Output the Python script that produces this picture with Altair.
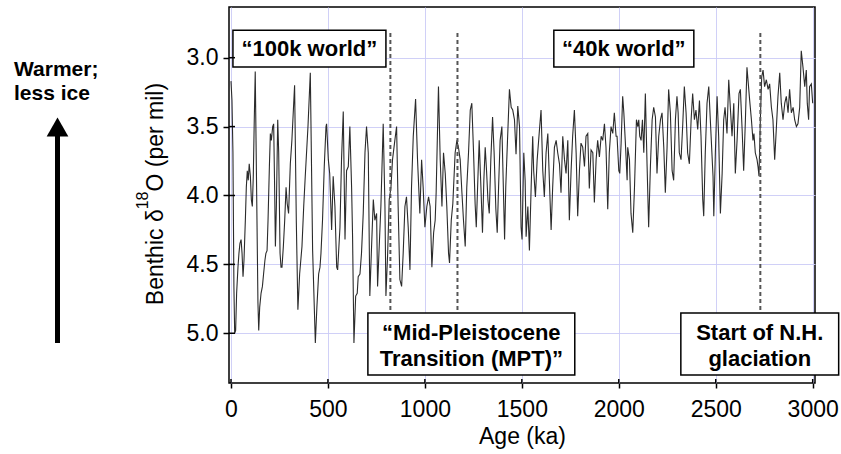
import altair as alt
import pandas as pd

# ---- benthic d18O stack (age in ka, value in per mil) ----
age_0_500 = [0, 5, 10, 15, 19, 24, 29, 36, 41, 46, 52, 57, 62, 67, 74, 79, 84, 89, 94, 100,
             105, 110, 115, 120, 125, 132, 139, 143, 148, 155, 162, 168, 175, 180, 186, 191,
             198, 203, 208, 215, 220, 225, 229, 234, 241, 246, 253, 258, 263, 270, 277, 284,
             290, 297, 306, 314, 321, 328, 337, 345, 354, 366, 375, 383, 397, 409, 421, 435,
             443, 452, 459, 464, 472, 481, 490]
d18o_0_500 = [3.17, 3.31, 3.69, 4.66, 5.00, 4.98, 4.71, 4.52, 4.42, 4.35, 4.32, 4.42, 4.59, 4.47,
              4.18, 3.94, 3.82, 3.89, 3.77, 3.86, 4.03, 4.08, 3.86, 3.45, 3.10, 3.94, 4.78, 4.98,
              4.81, 4.71, 4.66, 4.57, 4.47, 4.42, 4.40, 4.18, 3.79, 3.55, 3.60, 3.50, 3.48, 3.94,
              4.37, 4.08, 3.45, 3.69, 4.42, 4.52, 4.52, 4.37, 4.18, 3.94, 4.06, 4.13, 3.77, 3.60,
              3.40, 3.20, 4.20, 4.83, 4.57, 4.37, 4.08, 3.86, 3.50, 3.11, 4.40, 5.07, 4.81, 4.57,
              4.52, 4.42, 4.18, 3.79, 3.50]

age_500_1000 = [493, 502, 509, 519, 527, 536, 545, 550, 562, 570, 579, 588, 596, 605, 613, 622,
                627, 634, 643, 651, 656, 665, 673, 682, 691, 699, 708, 716, 725, 734, 742, 751,
                756, 763, 773, 785, 794, 799, 808, 816, 825, 833, 845, 854, 862, 871, 880, 888,
                897, 905, 914, 923, 931, 940, 952, 962, 974, 983, 991, 1000]
d18o_500_1000 = [3.48, 3.74, 3.84, 4.25, 3.86, 4.08, 4.52, 4.54, 4.23, 3.74, 3.39, 4.32, 3.82,
                 3.79, 3.50, 3.94, 4.30, 5.07, 4.73, 4.71, 4.59, 4.57, 4.42, 4.13, 3.69, 3.50,
                 3.69, 4.73, 4.37, 4.03, 4.18, 4.13, 4.66, 4.42, 4.08, 3.48, 4.08, 4.73, 4.42,
                 4.03, 3.94, 3.74, 3.60, 3.50, 4.08, 4.61, 4.66, 4.42, 4.08, 4.01, 4.23, 4.54,
                 3.94, 3.57, 3.30, 3.74, 4.13, 3.74, 3.94, 4.23]

age_1000_1500 = [1010, 1019, 1027, 1036, 1045, 1053, 1058, 1070, 1079, 1088, 1096, 1105, 1113,
                 1122, 1127, 1136, 1144, 1156, 1165, 1173, 1182, 1191, 1199, 1208, 1216, 1225,
                 1234, 1242, 1251, 1259, 1265, 1273, 1280, 1289, 1297, 1304, 1311, 1318, 1325,
                 1332, 1340, 1349, 1357, 1366, 1373, 1380, 1388, 1397, 1402, 1411, 1417, 1426,
                 1436, 1445, 1453, 1462, 1470, 1479, 1488, 1496]
d18o_1000_1500 = [4.08, 4.01, 4.08, 4.52, 4.27, 4.18, 3.98, 3.21, 3.74, 4.08, 3.69, 3.84, 4.08,
                  4.42, 4.49, 4.18, 4.06, 3.69, 3.60, 3.65, 3.74, 3.98, 4.18, 4.37, 3.94, 3.69,
                  3.38, 3.33, 3.69, 4.06, 4.23, 3.89, 3.60, 3.94, 4.27, 3.89, 3.65, 3.82, 4.03,
                  4.13, 3.74, 3.43, 3.69, 4.10, 4.27, 3.94, 3.60, 3.50, 3.79, 4.32, 3.94, 3.60,
                  3.23, 3.36, 3.38, 3.45, 3.70, 3.35, 3.50, 4.23]

age_1500_2000 = [1501, 1510, 1517, 1522, 1531, 1539, 1548, 1556, 1561, 1570, 1579, 1591, 1599,
                 1608, 1616, 1625, 1634, 1642, 1651, 1659, 1668, 1677, 1685, 1694, 1702, 1711,
                 1720, 1728, 1737, 1745, 1754, 1762, 1771, 1780, 1788, 1797, 1805, 1814, 1823,
                 1831, 1840, 1848, 1857, 1866, 1874, 1883, 1891, 1900, 1909, 1917, 1926, 1934,
                 1943, 1951, 1960, 1969, 1977, 1986]
d18o_1500_2000 = [4.32, 3.69, 3.89, 4.30, 4.08, 4.40, 3.94, 3.57, 3.82, 4.01, 3.74, 3.52, 3.38,
                  3.82, 4.01, 3.69, 3.55, 3.89, 4.25, 3.94, 3.65, 3.60, 3.69, 3.77, 3.98, 3.57,
                  3.74, 3.84, 3.60, 4.18, 3.82, 3.57, 3.38, 3.69, 4.15, 3.82, 3.62, 3.65, 3.79,
                  3.57, 3.55, 3.95, 3.67, 3.69, 4.05, 3.74, 3.60, 3.72, 3.57, 3.60, 3.48, 3.65,
                  4.10, 3.69, 3.50, 3.55, 3.40, 3.57]

age_2000_2500 = [1991, 2000, 2005, 2012, 2020, 2026, 2034, 2043, 2046, 2055, 2063, 2072, 2081,
                 2091, 2098, 2103, 2108, 2115, 2122, 2129, 2137, 2146, 2154, 2163, 2172, 2180,
                 2189, 2197, 2206, 2215, 2223, 2232, 2240, 2249, 2257, 2266, 2275, 2283, 2292,
                 2300, 2306, 2312, 2321, 2330, 2338, 2347, 2355, 2364, 2373, 2381, 2390, 2398,
                 2407, 2416, 2424, 2433, 2438, 2446, 2455, 2464, 2472]
d18o_2000_2500 = [3.57, 3.82, 3.84, 3.62, 3.28, 3.40, 3.62, 3.89, 3.65, 3.74, 4.13, 4.27, 3.94,
                  3.45, 3.50, 3.45, 3.57, 3.60, 3.45, 3.69, 3.26, 3.79, 4.23, 3.79, 3.45, 3.36,
                  3.43, 3.84, 3.57, 3.45, 3.40, 3.65, 3.98, 3.65, 3.23, 3.40, 3.82, 3.89, 3.45,
                  3.28, 3.40, 3.69, 3.74, 3.48, 3.21, 3.40, 3.69, 3.77, 3.45, 3.26, 3.45, 3.38,
                  3.52, 3.31, 3.57, 4.03, 4.15, 3.69, 3.33, 3.21, 3.45]

age_2500_3000 = [2486, 2490, 2498, 2507, 2515, 2524, 2533, 2541, 2548, 2558, 2567, 2576, 2584,
                 2593, 2601, 2610, 2620, 2627, 2636, 2644, 2653, 2661, 2668, 2675, 2684, 2692,
                 2697, 2704, 2713, 2718, 2723, 2730, 2737, 2744, 2752, 2761, 2770, 2778, 2787,
                 2795, 2804, 2813, 2821, 2830, 2838, 2847, 2856, 2864, 2873, 2881, 2890, 2899,
                 2907, 2916, 2924, 2933, 2941, 2950, 2959, 2967, 2972, 2979, 2984, 2993, 3000]
d18o_2500_3000 = [3.86, 4.15, 3.69, 3.28, 3.57, 4.13, 3.84, 3.45, 3.36, 3.55, 3.16, 3.38, 3.57,
                  3.33, 3.84, 3.60, 3.26, 3.23, 3.52, 3.82, 3.45, 3.07, 3.19, 3.31, 3.45, 3.60,
                  3.55, 3.69, 3.74, 3.79, 3.86, 3.45, 3.14, 3.09, 3.21, 3.16, 3.23, 3.19, 3.36,
                  3.45, 3.74, 3.50, 3.28, 3.11, 3.33, 3.45, 3.33, 3.28, 3.40, 3.23, 3.40, 3.36,
                  3.45, 3.50, 3.48, 3.36, 2.95, 3.07, 3.21, 3.09, 3.33, 3.45, 3.21, 3.19, 3.33]

# ---- axes ----
x_ticks = [0, 500, 1000, 1500, 2000, 2500, 3000]
y_ticks = [3.0, 3.5, 4.0, 4.5, 5.0]

# ---- annotations (data coordinates) ----
event_ages = [822, 1168, 2730]
event_top = [2.82, 2.82, 2.82]
event_bottom = [4.853, 4.853, 4.853]

box_left = [10, 1665, 706, 2320]
box_right = [799, 2387, 1773, 3134]
box_top = [2.80, 2.80, 4.853, 4.853]
box_bottom = [3.067, 3.067, 5.303, 5.303]

label_text = ["\u201c100k world\u201d", "\u201c40k world\u201d", "\u201cMid-Pleistocene",
              "Transition (MPT)\u201d", "Start of N.H.", "glaciation"]
label_age = [404.5, 2026, 1239.5, 1239.5, 2727, 2727]
label_val = [2.988, 2.988, 5.049, 5.236, 5.049, 5.236]

FONT = "Liberation Sans"
W, H = 586, 376
GRID = "#cbcbf6"

curve = pd.DataFrame({
    "age": age_0_500 + age_500_1000 + age_1000_1500 + age_1500_2000 + age_2000_2500 + age_2500_3000,
    "d18o": d18o_0_500 + d18o_500_1000 + d18o_1000_1500 + d18o_1500_2000 + d18o_2000_2500 + d18o_2500_3000,
})

xscale = alt.Scale(domain=[-10.3, 3011.9], nice=False, zero=False)
yscale = alt.Scale(domain=[2.632, 5.361], reverse=True, nice=False, zero=False)

line = alt.Chart(curve).mark_line(color="#2b2b2b", strokeWidth=1.1).encode(
    x=alt.X("age:Q", scale=xscale,
            axis=alt.Axis(values=x_ticks, format="d", title="Age (ka)", grid=True,
                          gridColor=GRID, gridWidth=0.9, domain=False,
                          tickSize=5, tickColor="black", tickWidth=1.5,
                          labelPadding=10, labelFontSize=23, labelFont=FONT, labelColor="black",
                          labelFlush=False, labelOverlap=False,
                          titleFontSize=23, titleFont=FONT, titleFontWeight="normal",
                          titleColor="black", titleX=W / 2, titleY=60,
                          titleAlign="center", titleBaseline="alphabetic")),
    y=alt.Y("d18o:Q", scale=yscale,
            axis=alt.Axis(values=y_ticks, format=".1f", title="",
                          grid=True, gridColor=GRID, gridWidth=0.9, domain=False,
                          tickSize=6, tickColor="black", tickWidth=1.5,
                          labelPadding=5, labelFontSize=23, labelFont=FONT, labelColor="black")),
)

events = alt.Chart(pd.DataFrame({"age": event_ages, "d18o": event_top, "d18o2": event_bottom})).mark_rule(
    color="#555555", strokeWidth=2, strokeDash=[4, 3]
).encode(x="age:Q", y="d18o:Q", y2="d18o2:Q")

boxes = alt.Chart(pd.DataFrame({"age": box_left, "age2": box_right,
                                "d18o": box_top, "d18o2": box_bottom})).mark_rect(
    fill="white", stroke="black", strokeWidth=1.5
).encode(x="age:Q", x2="age2:Q", y="d18o:Q", y2="d18o2:Q")

labels = alt.Chart(pd.DataFrame({"age": label_age, "d18o": label_val, "txt": label_text})).mark_text(
    font=FONT, fontSize=22, fontWeight="bold", color="black", align="center", baseline="alphabetic"
).encode(x="age:Q", y="d18o:Q", text="txt:N")

y_inner = alt.Chart(pd.DataFrame({"d18o": y_ticks})).mark_rule(color="black", strokeWidth=1.5).encode(
    y="d18o:Q", x=alt.value(0), x2=alt.value(6))
x_inner = alt.Chart(pd.DataFrame({"age": x_ticks})).mark_rule(color="black", strokeWidth=1.5).encode(
    x="age:Q", y=alt.value(H - 4), y2=alt.value(H))

one = pd.DataFrame({"k": [0]})


def side_text(txt, x, y, size, weight="normal", angle=0):
    return alt.Chart(one).mark_text(font=FONT, fontSize=size, fontWeight=weight, color="black",
                                    align="left", baseline="alphabetic", angle=angle).encode(
        x=alt.value(x), y=alt.value(y), text=alt.value(txt))


# y-axis title with a real superscript
title_a = side_text("Benthic \u03b4", -66, 298.2, 23, angle=270)
title_b = side_text("18", -81, 202.3, 16, angle=270)
title_c = side_text("O (per mil)", -66, 184.5, 23, angle=270)

side1 = side_text("Warmer;", -215, 69, 21, "bold")
side2 = side_text("less ice", -215, 93, 21, "bold")
shaft = alt.Chart(one).mark_rule(color="black", strokeWidth=5).encode(
    x=alt.value(-171.5), y=alt.value(124), y2=alt.value(336))
head = alt.Chart(one).mark_point(shape="triangle-up", filled=True, color="black", opacity=1,
                                 size=470, strokeWidth=0).encode(
    x=alt.value(-171.5), y=alt.value(120))

chart = alt.layer(line, events, boxes, labels, y_inner, x_inner,
                  title_a, title_b, title_c, side1, side2, shaft, head).properties(
    width=W, height=H,
    autosize=alt.AutoSizeParams(type="none"),
    padding={"left": 229, "top": 7, "right": 26, "bottom": 71},
    background="white",
).configure_view(stroke="black", strokeWidth=1.5)

chart.save("out.html", embed_options={"renderer": "svg", "actions": False})
